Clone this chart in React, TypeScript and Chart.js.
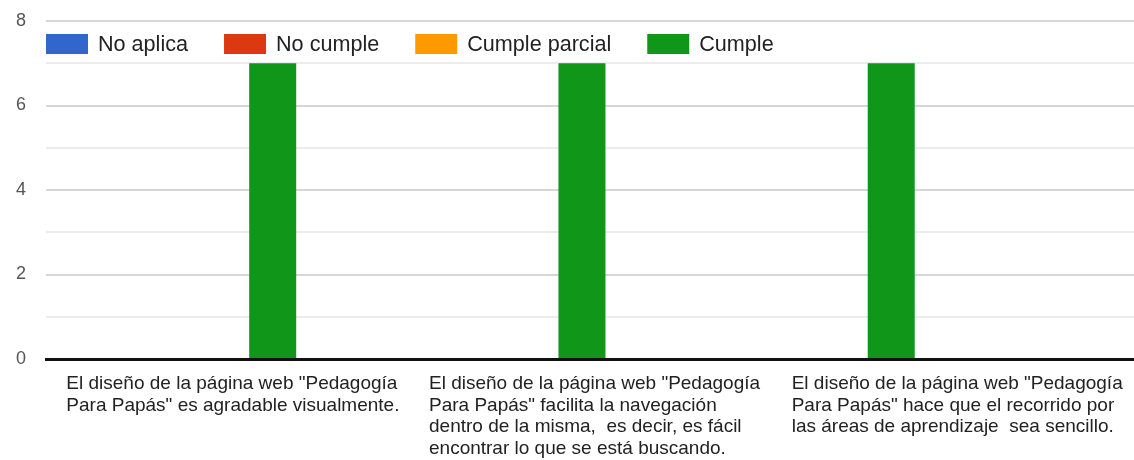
import React, { useEffect, useRef } from "react";
import { Chart, registerables } from "chart.js";

Chart.register(...registerables);

const categories: string[][] = [
  ["El diseño de la página web \"Pedagogía", "Para Papás\" es agradable visualmente."],
  [
    "El diseño de la página web \"Pedagogía",
    "Para Papás\" facilita la navegación",
    "dentro de la misma,  es decir, es fácil",
    "encontrar lo que se está buscando.",
  ],
  [
    "El diseño de la página web \"Pedagogía",
    "Para Papás\" hace que el recorrido por",
    "las áreas de aprendizaje  sea sencillo.",
  ],
];

const seriesNames = ["No aplica", "No cumple", "Cumple parcial", "Cumple"];
const seriesColors = ["#3366cc", "#dc3912", "#ff9900", "#109618"];
const noAplica = [0, 0, 0];
const noCumple = [0, 0, 0];
const cumpleParcial = [0, 0, 0];
const cumple = [7, 7, 7];

const yMin = 0;
const yMax = 8;
const yStep = 1;

const FONT = "'Liberation Sans', Arial, sans-serif";

const legendPlugin = {
  id: "insideLegend",
  afterDraw(chart: any) {
    const { ctx, chartArea } = chart;
    ctx.save();
    ctx.font = `21.6px ${FONT}`;
    ctx.textBaseline = "middle";
    ctx.textAlign = "left";
    let x = chartArea.left;
    const yc = chartArea.top + 23;
    chart.data.datasets.forEach((ds: any) => {
      ctx.fillStyle = ds.backgroundColor;
      ctx.fillRect(x, yc - 10, 42, 20);
      x += 52;
      ctx.fillStyle = "#222222";
      ctx.fillText(ds.label, x, yc + 1);
      x += ctx.measureText(ds.label).width + 36;
    });
    ctx.restore();
  },
};

export default function App() {
  const ref = useRef<HTMLCanvasElement | null>(null);

  useEffect(() => {
    document.body.style.margin = "0";
    if (!ref.current) return;
    const series = [noAplica, noCumple, cumpleParcial, cumple];
    const chart = new Chart(ref.current, {
      type: "bar",
      data: {
        labels: categories as any,
        datasets: series.map((vals, si) => ({
          label: seriesNames[si],
          data: vals.map((v, i) => ({ x: i, y: v })),
          backgroundColor: seriesColors[si],
          borderWidth: 0,
          xAxisID: "xb",
          categoryPercentage: 0.8,
          barPercentage: 0.76,
        })),
      },
      options: {
        animation: false,
        responsive: true,
        maintainAspectRatio: false,
        layout: { padding: { top: 21, right: 0, left: 0, bottom: 0 } },
        plugins: {
          legend: { display: false },
          tooltip: { enabled: false },
        },
        scales: {
          xb: {
            type: "linear",
            axis: "x",
            display: false,
            offset: false,
            min: -0.433,
            max: 3.085,
            ticks: { stepSize: 1, includeBounds: false },
            grid: { display: false },
          } as any,
          x: {
            type: "category",
            offset: true,
            grid: { display: false, drawTicks: false },
            border: { display: true, color: "#111111", width: 3 },
            ticks: {
              align: "start",
              labelOffset: -161,
              autoSkip: false,
              maxRotation: 0,
              minRotation: 0,
              padding: 14,
              color: "#222222",
              font: { family: FONT, size: 19, lineHeight: 1.14 },
            },
            afterFit(scale: any) {
              scale.height = 101;
              scale.paddingLeft = 0;
              scale.paddingRight = 0;
            },
          } as any,
          y: {
            min: yMin,
            max: yMax,
            border: { display: false },
            grid: {
              drawTicks: false,
              color: (c: any) => (c.tick && c.tick.value % 2 === 0 ? "#d6d6d6" : "#ececec"),
              lineWidth: 2,
            },
            ticks: {
              stepSize: yStep,
              padding: 20,
              color: "#555555",
              font: { family: FONT, size: 18 },
              callback: (v: any) => (Number(v) % 2 === 0 ? String(v) : ""),
            },
            afterFit(scale: any) {
              scale.width = 46;
              scale.paddingTop = 0;
              scale.paddingBottom = 0;
            },
          },
        },
      },
      plugins: [legendPlugin],
    });
    return () => chart.destroy();
  }, []);

  return (
    <div style={{ position: "relative", width: 1134, height: 460, background: "#ffffff" }}>
      <canvas ref={ref} />
    </div>
  );
}
